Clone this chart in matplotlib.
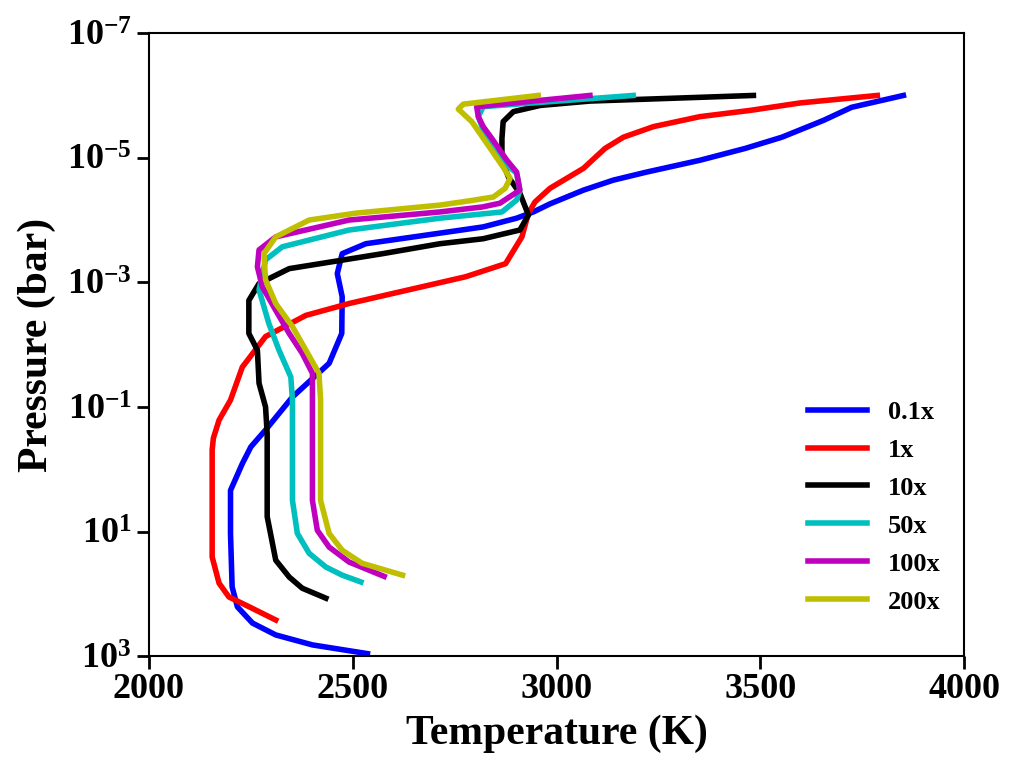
import matplotlib
matplotlib.use("Agg")
import matplotlib.pyplot as plt
import numpy as np

plt.rcParams['font.family'] = ['Liberation Serif', 'DejaVu Serif']
plt.rcParams['font.weight'] = 'bold'
plt.rcParams['mathtext.fontset'] = 'custom'
plt.rcParams['mathtext.rm'] = 'Liberation Serif:bold'
plt.rcParams['mathtext.bf'] = 'Liberation Serif:bold'
plt.rcParams['mathtext.it'] = 'Liberation Serif:bold:italic'

# perfiles T-P, log10(P/bar) y T (K)
logp_01 = [-6.0, -5.81, -5.60, -5.33, -5.15, -4.96, -4.77, -4.64, -4.48, -4.26, -4.13,
           -4.03, -3.89, -3.79, -3.62, -3.46, -3.14, -2.77, -2.18, -1.70, -1.16, -0.63,
           -0.36, -0.09, 0.34, 1.03, 1.89, 2.21, 2.47, 2.66, 2.82, 2.96]
t_01 = [3851, 3724, 3655, 3553, 3463, 3352, 3221, 3139, 3066, 2984, 2943,
        2902, 2820, 2714, 2532, 2474, 2462, 2474, 2473, 2442, 2352, 2286,
        2250, 2229, 2200, 2200, 2204, 2217, 2254, 2311, 2401, 2536]

logp_1 = [-6.0, -5.88, -5.76, -5.66, -5.50, -5.33, -5.15, -4.83, -4.51, -4.29, -4.11,
          -3.73, -3.30, -3.09, -2.66, -2.47, -2.13, -1.64, -1.11, -0.79, -0.50, -0.31,
          0.50, 1.41, 1.83, 2.05, 2.18, 2.42]
t_1 = [3787, 3598, 3475, 3352, 3238, 3164, 3119, 3066, 2984, 2947, 2931,
       2915, 2875, 2777, 2491, 2385, 2286, 2229, 2200, 2172, 2158, 2155,
       2155, 2155, 2172, 2196, 2237, 2311]

logp_10 = [-6.0, -5.97, -5.91, -5.84, -5.74, -5.58, -5.31, -4.96, -4.69, -4.43, -4.08,
           -3.84, -3.70, -3.62, -3.46, -3.22, -2.98, -2.71, -2.18, -1.91, -1.38, -1.00,
           -0.57, 0.76, 1.46, 1.73, 1.91, 2.07]
t_10 = [3483, 3352, 3082, 2960, 2894, 2869, 2866, 2866, 2882, 2910, 2931,
        2910, 2820, 2714, 2573, 2344, 2270, 2245, 2245, 2266, 2270, 2286,
        2290, 2290, 2311, 2344, 2376, 2434]

logp_50 = [-6.0, -5.82, -5.66, -5.44, -5.15, -4.91, -4.75, -4.48, -4.32, -4.13, -4.03,
           -3.84, -3.57, -3.36, -2.88, -2.34, -1.91, -1.48, -1.11, 0.50, 1.03, 1.35,
           1.57, 1.70, 1.81]
t_50 = [3188, 2820, 2808, 2820, 2841, 2874, 2902, 2910, 2902, 2866, 2714,
        2491, 2327, 2286, 2270, 2294, 2319, 2348, 2352, 2352, 2364, 2393,
        2434, 2474, 2520]

logp_100 = [-6.0, -5.82, -5.66, -5.50, -5.31, -4.96, -4.77, -4.48, -4.27, -4.21, -4.13,
            -4.00, -3.73, -3.52, -3.25, -2.93, -2.55, -2.18, -1.86, -1.54, -0.31, 0.50,
            0.98, 1.25, 1.49, 1.72]
t_100 = [3082, 2804, 2808, 2820, 2841, 2878, 2902, 2910, 2861, 2818, 2714,
         2491, 2311, 2270, 2266, 2278, 2311, 2344, 2376, 2401, 2401, 2401,
         2413, 2442, 2491, 2577]

logp_200 = [-6.0, -5.86, -5.78, -5.58, -5.23, -4.85, -4.67, -4.51, -4.37, -4.31, -4.24,
            -4.11, -4.00, -3.73, -3.46, -3.04, -2.66, -2.29, -1.91, -1.54, -1.11, 0.50,
            1.03, 1.30, 1.51, 1.70]
t_200 = [2955, 2771, 2759, 2792, 2829, 2869, 2886, 2874, 2845, 2788, 2714,
         2507, 2393, 2311, 2282, 2286, 2311, 2352, 2385, 2417, 2421, 2421,
         2442, 2474, 2523, 2622]

etiquetas = ['0.1x', '1x', '10x', '50x', '100x', '200x']
colores = ['b', 'r', 'k', 'c', 'm', 'y']
perfiles = [(t_01, logp_01), (t_1, logp_1), (t_10, logp_10),
            (t_50, logp_50), (t_100, logp_100), (t_200, logp_200)]

yticks = [1e-7, 1e-5, 1e-3, 1e-1, 1e1, 1e3]
ytick_labels = [r'$10^{-7}$', r'$10^{-5}$', r'$10^{-3}$', r'$10^{-1}$', r'$10^{1}$', r'$10^{3}$']
xticks = [2000, 2500, 3000, 3500, 4000]

fig = plt.figure(figsize=(10.17, 7.71), dpi=100)
ax = fig.add_axes([0.1465, 0.149, 0.8015, 0.808])

for (t, lp), lab, col in zip(perfiles, etiquetas, colores):
    ax.plot(t, 10**np.array(lp), color=col, lw=4, label=lab)

ax.set_yscale('log')
ax.set_xlim(2000, 4000)
ax.set_ylim(1e3, 1e-7)
ax.set_yticks(yticks)
ax.set_yticklabels(ytick_labels)
ax.yaxis.set_minor_locator(matplotlib.ticker.NullLocator())
ax.set_xticks(xticks)
ax.tick_params(which='major', direction='out', length=9, width=2, labelsize=26)
for s in ax.spines.values():
    s.set_linewidth(1.5)

ax.set_xlabel('Temperature (K)', fontsize=30, fontweight='bold', labelpad=6)
ax.set_ylabel('Pressure (bar)', fontsize=30, fontweight='bold', labelpad=8)

ax.legend(loc='lower right', frameon=False, fontsize=19, labelspacing=0.55,
          handlelength=2.2, bbox_to_anchor=(1.0, 0.03))

fig.savefig('out.png', dpi=100)
